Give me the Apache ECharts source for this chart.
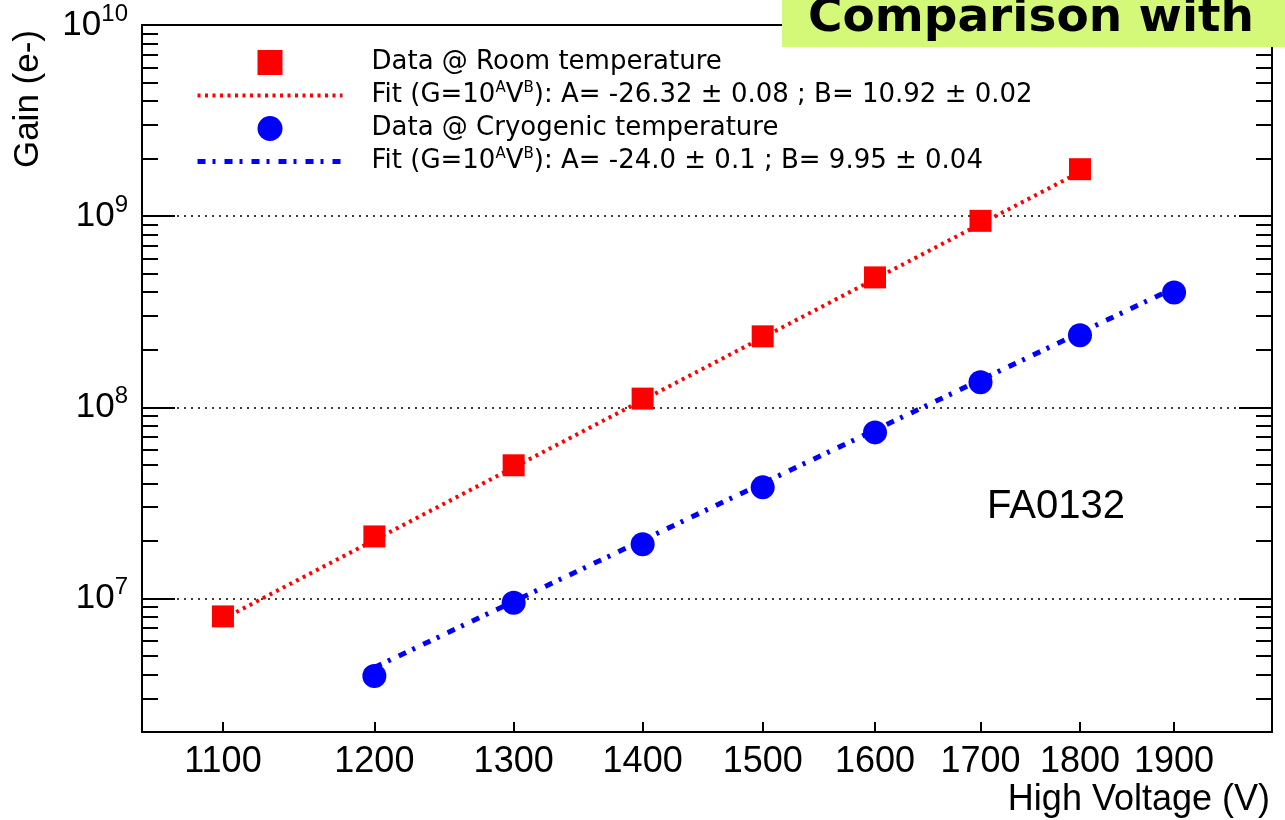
<!DOCTYPE html>
<html>
<head>
<meta charset="utf-8">
<script src="https://cdn.jsdelivr.net/npm/echarts@6/dist/echarts.min.js"></script>
<style>html,body{margin:0;padding:0;background:#fff}#c{width:1285px;height:820px}</style>
</head>
<body>
<div id="c"></div>
<script>
const roomVoltage = [1100, 1200, 1300, 1400, 1500, 1600, 1700, 1800];
const roomGain = [8.05e6, 2.11e7, 4.97e7, 1.11e8, 2.35e8, 4.78e8, 9.45e8, 1.76e9];
const cryoVoltage = [1200, 1300, 1400, 1500, 1600, 1700, 1800, 1900];
const cryoGain = [3.93e6, 9.5e6, 1.92e7, 3.81e7, 7.39e7, 1.35e8, 2.38e8, 3.99e8];
const roomFitVoltage = [1100, 1800];
const roomFitGain = [7.8e6, 1.70e9];
const cryoFitVoltage = [1200, 1900];
const cryoFitGain = [4.35e6, 4.2e8];
const xTickValues = [1100, 1200, 1300, 1400, 1500, 1600, 1700, 1800, 1900];
const yMajorTicks = [1e7, 1e8, 1e9, 1e10];
const yMinorTicks = [3e6, 4e6, 5e6, 6e6, 7e6, 8e6, 9e6,
  2e7, 3e7, 4e7, 5e7, 6e7, 7e7, 8e7, 9e7,
  2e8, 3e8, 4e8, 5e8, 6e8, 7e8, 8e8, 9e8,
  2e9, 3e9, 4e9, 5e9, 6e9, 7e9, 8e9, 9e9];
const roomName = 'Data @ Room temperature';
const roomFitName = 'Fit (G=10^AV^B): A= -26.32 ± 0.08 ; B= 10.92 ± 0.02';
const cryoName = 'Data @ Cryogenic temperature';
const cryoFitName = 'Fit (G=10^AV^B): A= -24.0 ± 0.1 ; B= 9.95 ± 0.04';
const titleText = 'Comparison with';
const xTitle = 'High Voltage (V)';
const yTitle = 'Gain (e-)';
const tagText = 'FA0132';

const zip = (a, b) => a.map((v, i) => [v, b[i]]);
const SANS = '"Liberation Sans", Arial, sans-serif';
const LEG = '"DejaVu Sans", sans-serif';
const X_MIN = 1050, X_MAX = 2010, Y_MIN = 2e6, Y_MAX = 1e10;
const RED = '#ff0000', BLUE = '#0000ff';
const redDash = [3, 4.5], blueDash = [8, 7, 3, 9];

const chart = echarts.init(document.getElementById('c'), null, {renderer: 'canvas'});

function yAxisBase(pos) {
  return {
    type: 'log', logBase: 10, min: Y_MIN, max: Y_MAX, position: pos, gridIndex: 0,
    axisLine: {show: false, lineStyle: {color: '#000', width: 2}},
    axisTick: {show: false},
    axisLabel: {show: false},
    splitLine: {show: false},
    minorTick: {show: false}
  };
}
function xAxisBase(pos) {
  return {
    type: 'log', logBase: 10, min: X_MIN, max: X_MAX, position: pos, gridIndex: 0,
    axisLine: {show: true, lineStyle: {color: '#000', width: 2}},
    axisTick: {show: false},
    axisLabel: {show: false},
    splitLine: {show: false}
  };
}

const yLeftMajor = yAxisBase('left');
yLeftMajor.axisLine.show = true;
yLeftMajor.axisTick = {show: true, inside: true, length: 33, customValues: yMajorTicks, lineStyle: {color: '#000', width: 2}};
yLeftMajor.axisLabel = {
  show: true, customValues: yMajorTicks, margin: 14, color: '#000',
  formatter: v => '{b|10}{s|' + Math.round(Math.log10(v)) + '}',
  rich: {
    b: {fontSize: 35, fontFamily: SANS, color: '#000', lineHeight: 44},
    s: {fontSize: 24, fontFamily: SANS, color: '#000', lineHeight: 44, padding: [0, 0, 22, 0]}
  }
};
yLeftMajor.splitLine = {show: true, lineStyle: {color: '#000', width: 1.5, type: [2, 5]}};

const yLeftMinor = yAxisBase('left');
yLeftMinor.axisTick = {show: true, inside: true, length: 16, customValues: yMinorTicks, lineStyle: {color: '#000', width: 2}};

const yRightMajor = yAxisBase('right');
yRightMajor.axisLine.show = true;
yRightMajor.axisTick = {show: true, inside: true, length: 33, customValues: yMajorTicks, lineStyle: {color: '#000', width: 2}};

const yRightMinor = yAxisBase('right');
yRightMinor.axisTick = {show: true, inside: true, length: 16, customValues: yMinorTicks, lineStyle: {color: '#000', width: 2}};

const xBottom = xAxisBase('bottom');
xBottom.axisTick = {show: true, inside: true, length: 10, customValues: xTickValues, lineStyle: {color: '#000', width: 2}};
xBottom.axisLabel = {show: true, customValues: xTickValues, margin: 12, color: '#000', fontSize: 36, fontFamily: SANS, formatter: v => String(Math.round(v))};

const xTop = xAxisBase('top');

const supFmt = name => name.replace(/\^(\w)/g, '{sup|$1}');

const option = {
  animation: false,
  backgroundColor: '#fff',
  grid: {left: 142, right: 13, top: 25, bottom: 88, containLabel: false},
  xAxis: [xBottom, xTop],
  yAxis: [yLeftMajor, yLeftMinor, yRightMajor, yRightMinor],
  legend: {
    orient: 'vertical', left: 195, top: 46, padding: 0,
    itemWidth: 145, itemHeight: 25, itemGap: 0,
    selectedMode: false,
    symbolKeepAspect: true,
    data: [
      {name: roomName, icon: 'path://M0,0L10,0L10,10L0,10Z', itemStyle: {color: RED}},
      {name: roomFitName, itemStyle: {opacity: 0}, lineStyle: {color: RED, width: 4, type: redDash}},
      {name: cryoName, icon: 'circle', itemStyle: {color: BLUE}},
      {name: cryoFitName, itemStyle: {opacity: 0}, lineStyle: {color: BLUE, width: 5, type: blueDash}}
    ],
    formatter: supFmt,
    textStyle: {
      fontSize: 26, fontFamily: LEG, color: '#000', lineHeight: 33,
      padding: [0, 0, 0, 24],
      rich: {
        sup: {fontSize: 15, fontFamily: LEG, color: '#000', lineHeight: 33, padding: [0, 0, 14, 0]}
      }
    }
  },
  series: [
    {
      name: roomFitName, type: 'line', xAxisIndex: 0, yAxisIndex: 0,
      data: zip(roomFitVoltage, roomFitGain), symbol: 'none', z: 2,
      itemStyle: {color: RED},
      lineStyle: {color: RED, width: 4, type: redDash}
    },
    {
      name: cryoFitName, type: 'line', xAxisIndex: 0, yAxisIndex: 0,
      data: zip(cryoFitVoltage, cryoFitGain), symbol: 'none', z: 2,
      itemStyle: {color: BLUE},
      lineStyle: {color: BLUE, width: 5, type: blueDash}
    },
    {
      name: roomName, type: 'scatter', xAxisIndex: 0, yAxisIndex: 0,
      data: zip(roomVoltage, roomGain), symbol: 'rect', symbolSize: 22, z: 5,
      itemStyle: {color: RED, opacity: 1}
    },
    {
      name: cryoName, type: 'scatter', xAxisIndex: 0, yAxisIndex: 0,
      data: zip(cryoVoltage, cryoGain), symbol: 'circle', symbolSize: 24, z: 5,
      itemStyle: {color: BLUE, opacity: 1}
    }
  ],
  graphic: [
    {type: 'text', x: 28, y: 30, rotation: Math.PI / 2, z: 50,
      style: {text: yTitle, font: '35px ' + SANS, fill: '#000', textAlign: 'right', align: 'right', textVerticalAlign: 'middle', verticalAlign: 'middle'}},
    {type: 'text', x: 1270, y: 800, z: 50,
      style: {text: xTitle, font: '36px ' + SANS, fill: '#000', textAlign: 'right', align: 'right', textVerticalAlign: 'middle', verticalAlign: 'middle'}},
    {type: 'text', x: 987, y: 507, z: 50,
      style: {text: tagText, font: '40px ' + SANS, fill: '#000', textAlign: 'left', align: 'left', textVerticalAlign: 'middle', verticalAlign: 'middle'}},
    {type: 'rect', z: 100, shape: {x: 782, y: 0, width: 520, height: 47}, style: {fill: '#d4f878'}},
    {type: 'text', x: 808, y: 19, z: 101,
      style: {text: titleText, font: 'bold 47px "DejaVu Sans", sans-serif', fill: '#000', textAlign: 'left', align: 'left', textVerticalAlign: 'middle', verticalAlign: 'middle'}}
  ]
};
chart.setOption(option);
</script>
</body>
</html>
